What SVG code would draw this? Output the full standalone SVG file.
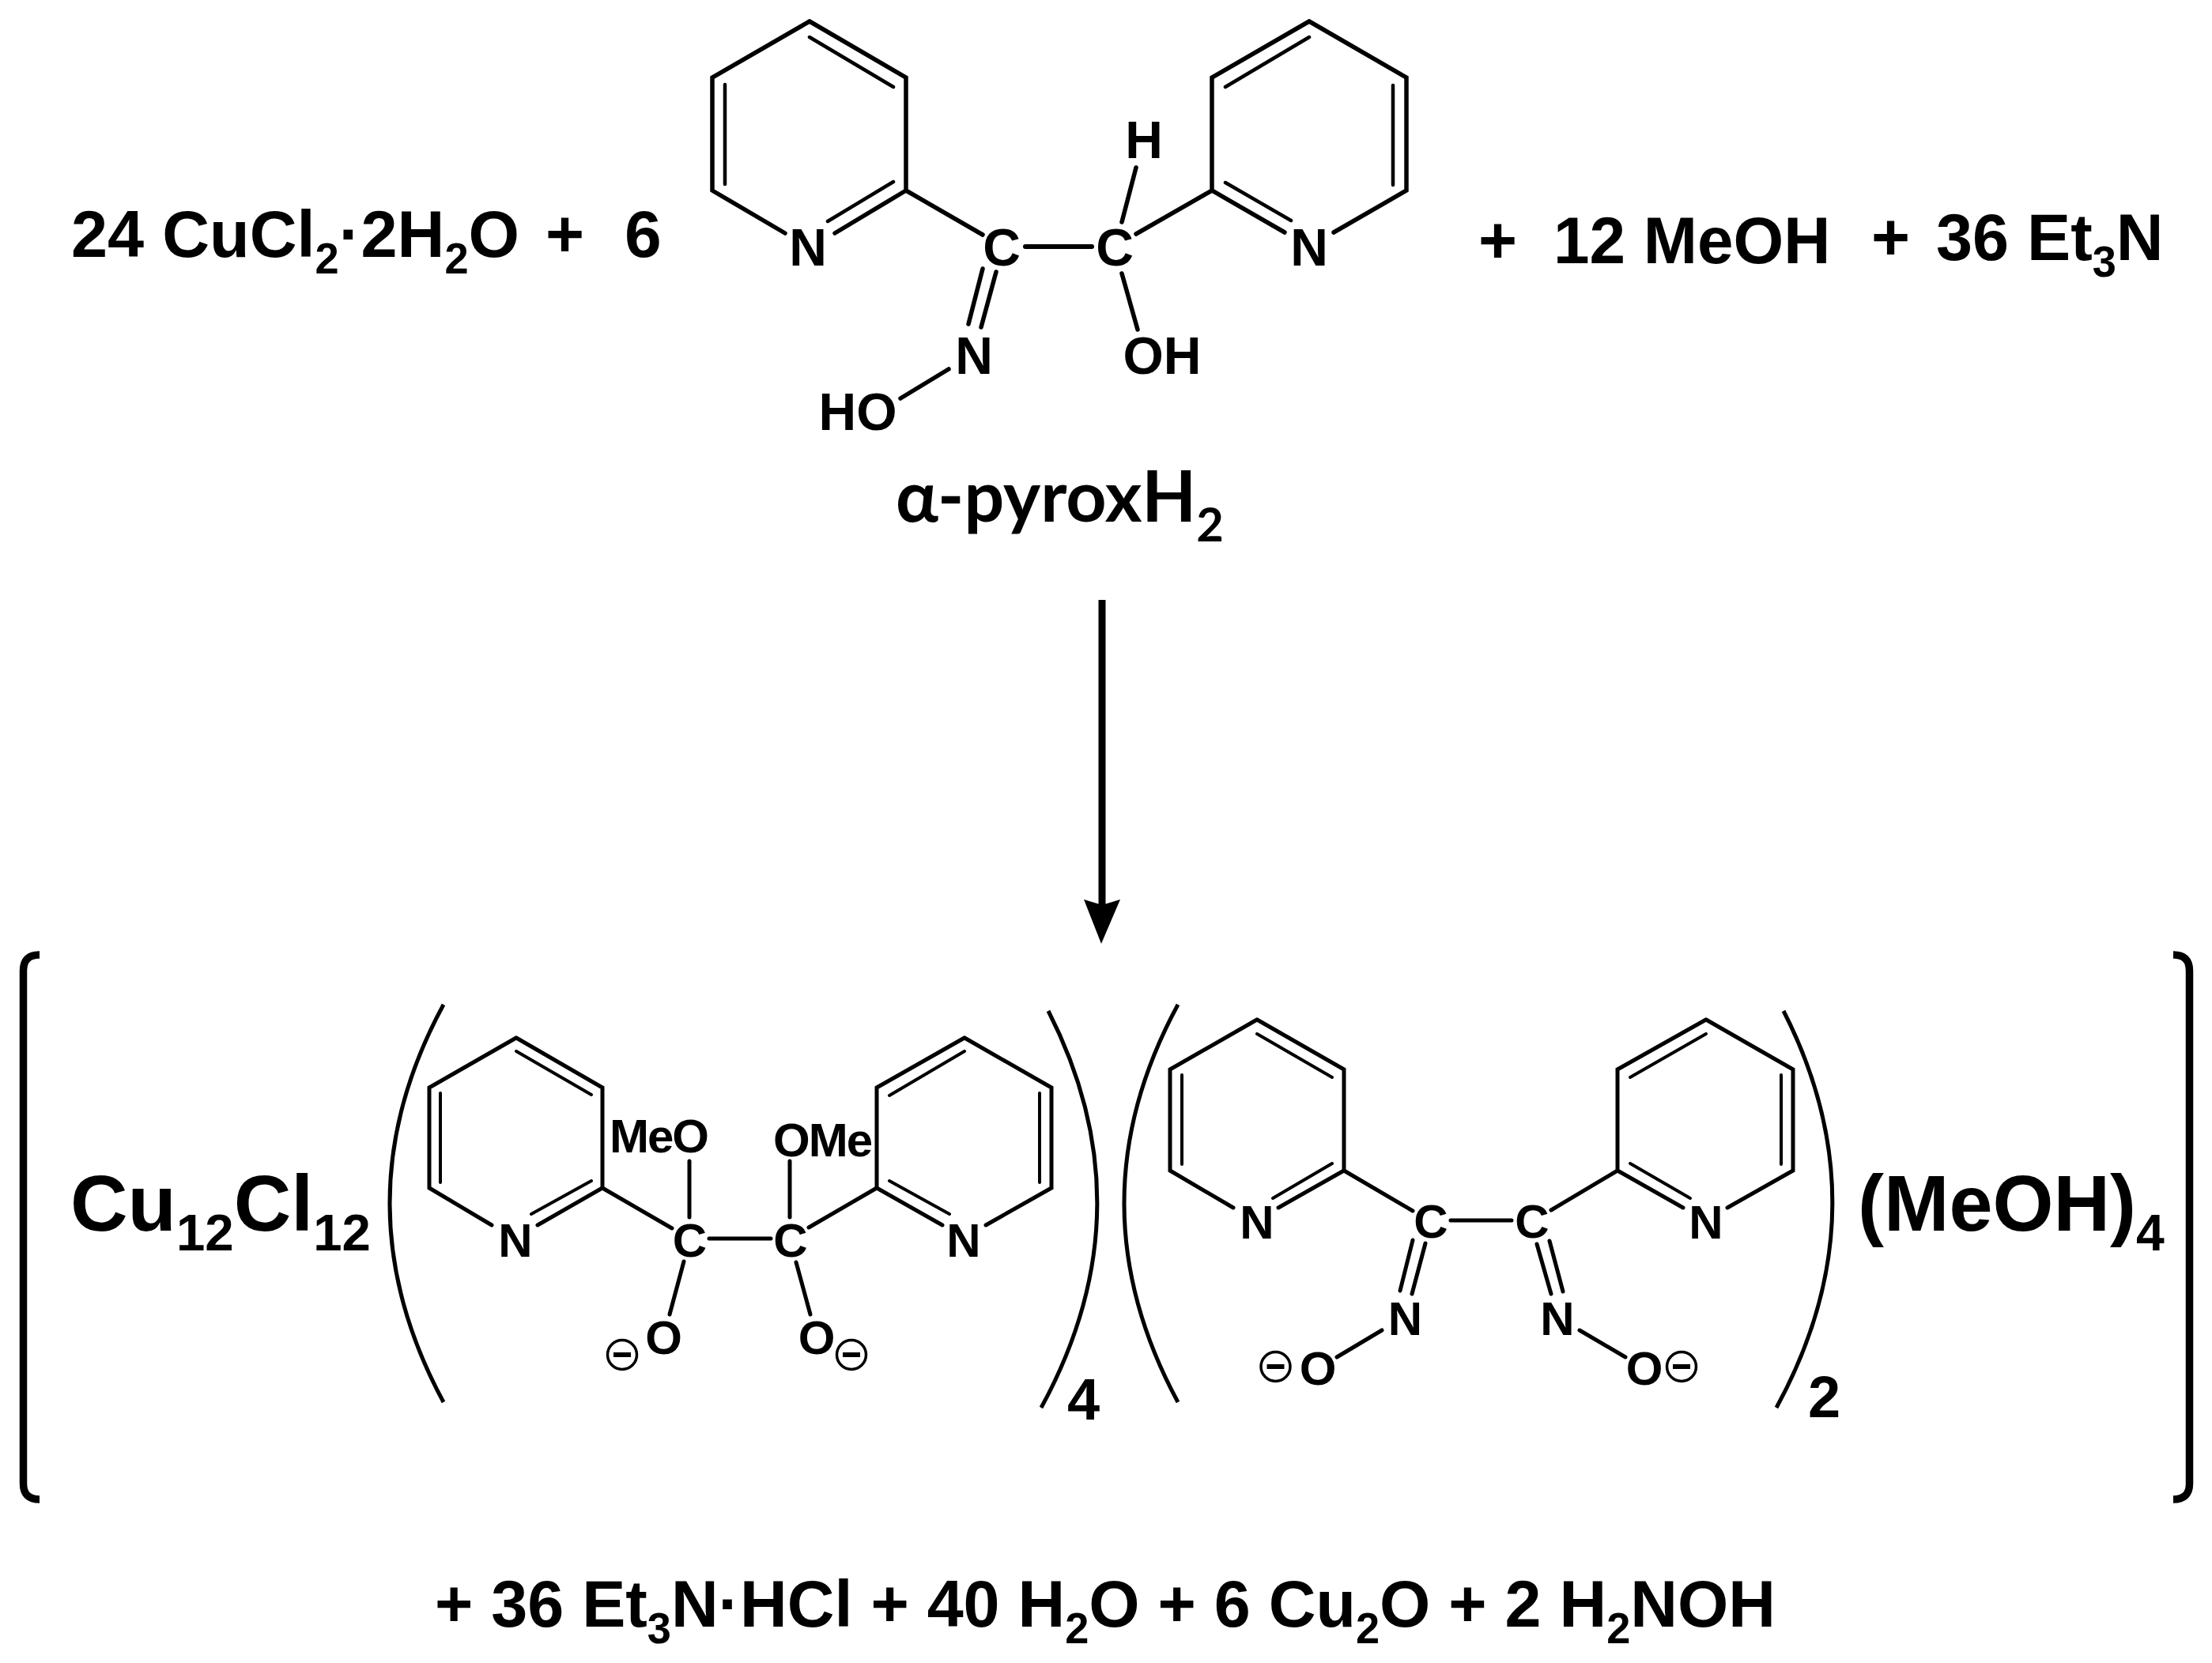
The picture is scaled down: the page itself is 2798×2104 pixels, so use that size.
<svg xmlns="http://www.w3.org/2000/svg" width="2798" height="2104" viewBox="0 0 2798 2104">
<style>
.bg{fill:#fff}
.b{fill:none;stroke:#000;stroke-width:5.5;stroke-linecap:round;stroke-linejoin:miter}
.i{fill:none;stroke:#000;stroke-width:4.5;stroke-linecap:round}
.l{fill:none;stroke:#000;stroke-width:5;stroke-linecap:round;stroke-linejoin:miter}
.li{fill:none;stroke:#000;stroke-width:4;stroke-linecap:round}
.p{fill:none;stroke:#000;stroke-width:5}
.br{fill:none;stroke:#000;stroke-width:9.5;stroke-linecap:butt}
text{fill:#000;font-family:"Liberation Sans",Arial,sans-serif}
.t{font-weight:700;font-size:84px}
.t tspan.s{font-size:55px}
.big{font-weight:700;font-size:100px}
.big tspan.s{font-size:65px}
.sub{font-weight:700;font-size:74px}
.cal{font-family:Lato,"Liberation Sans",sans-serif;font-weight:700;font-size:90px}
.cal tspan.s{font-size:60px}
.a{font-size:66px;font-weight:700;text-anchor:middle}
.a2{font-size:60px;font-weight:700;text-anchor:middle}
.sq{letter-spacing:-2px}
.minus{fill:none;stroke:#000;stroke-width:3.5}
.bar{fill:none;stroke:#000;stroke-width:6}
</style>
<defs>
<g id="neg"><circle r="18.5" class="minus"/><path d="M-11 0H11" class="bar"/></g>
</defs>
<rect class="bg" width="2798" height="2104"/>
<g id="reagent-text">
<text class="t" transform="translate(90 325) scale(.987 1)">24 CuCl<tspan class="s" dy="21">2</tspan><tspan dy="-21">·2H</tspan><tspan class="s" dy="21">2</tspan><tspan dy="-21">O</tspan></text>
<text class="t" x="690" y="325">+</text>
<text class="t" x="790" y="325">6</text>
<text class="t" x="1870" y="333">+</text>
<text class="t" transform="translate(1965 333) scale(.975 1)">12 MeOH</text>
<text class="t" x="2367" y="329">+</text>
<text class="t" transform="translate(2449 329) scale(.985 1)">36 Et<tspan class="s" dy="21">3</tspan><tspan dy="-21">N</tspan></text>
</g>
<g id="pyrox">
<g id="pyrox-bonds">
<path class="b" d="M1024 27L1146 98V241M1146 241L1056 295M993 295L901 241V98L1024 27M1146 241L1243 297"/>
<path class="i" d="M1024 47L1130 110M1130 230L1047 280M917 107V233"/>
<path class="b" d="M1656 27L1779 98V241L1687 294M1625 294L1533 241V98L1656 27M1533 241L1437 296"/>
<path class="i" d="M1656 47L1550 110M1550 231L1633 279M1762 108V234"/>
<path class="b" style="stroke-width:6" d="M1297 312H1381"/>
<path class="b" d="M1243 340L1225 410M1260 344L1241 414M1200 467L1139 504M1419 281L1437 212M1419 346L1439 417"/>
</g>
<text class="a" x="1022" y="336">N</text>
<text class="a" x="1656" y="336">N</text>
<text class="a" x="1267" y="336">C</text>
<text class="a" x="1410" y="336">C</text>
<text class="a" x="1232" y="473">N</text>
<text class="a" x="1447" y="200">H</text>
<text class="a" x="1470" y="473">OH</text>
<text class="a" x="1085" y="544">HO</text>
</g>
<text id="pyrox-label" class="cal" transform="translate(1133 660) scale(.995 1)">α-pyroxH<tspan class="s" dy="25">2</tspan></text>
<g id="connectors">
<path d="M1394 759V1150" stroke="#000" stroke-width="9" fill="none"/>
<path d="M1393 1194L1371 1138L1394 1145L1417 1138Z" fill="#000"/>
</g>
<g id="product">
<path class="br" d="M50 1208Q29.5 1208 29.5 1228V1877Q29.5 1897 50 1897"/>
<path class="br" d="M2749 1208Q2769.5 1208 2769.5 1228V1877Q2769.5 1897 2749 1897"/>
<text class="big" transform="translate(89 1557) scale(1.005 1)">Cu<tspan class="s" dy="25">12</tspan><tspan dy="-25">Cl</tspan><tspan class="s" dy="25">12</tspan></text>
<path class="p" d="M561 1271Q425 1522 561 1774"/>
<path class="p" d="M1326 1279Q1454 1530 1317 1781"/>
<text class="sub" x="1350" y="1796">4</text>
<path class="p" d="M1490 1271Q1354 1522 1490 1774"/>
<path class="p" d="M2256 1279Q2384 1530 2247 1781"/>
<text class="sub" x="2287" y="1793">2</text>
<text class="big" transform="translate(2350 1557) scale(.99 1)">(MeOH)<tspan class="s" dy="25">4</tspan></text>
</g>
<g id="ligand-1">
<path class="l" d="M653 1313L762 1376V1503L680 1550M622 1550L543 1503V1376L653 1313M762 1503L850 1554"/>
<path class="li" d="M653 1330L748 1385M748 1494L672 1536M557 1383V1496"/>
<path class="l" d="M1220 1313L1330 1376V1503L1247 1550M1192 1550L1109 1503V1376L1220 1313M1109 1503L1023 1553"/>
<path class="li" d="M1220 1330L1125 1386M1125 1494L1201 1536M1315 1383V1496"/>
<path class="l" d="M897 1567H975M872 1469V1540M999 1469V1540M865 1596L847 1663M1007 1597L1025 1663"/>
<text class="a2" x="652" y="1590">N</text>
<text class="a2" x="1219" y="1590">N</text>
<text class="a2" x="872.500" y="1590">C</text>
<text class="a2" x="1000" y="1590">C</text>
<text class="a2 sq" x="833" y="1458">MeO</text>
<text class="a2 sq" x="1040" y="1463">OMe</text>
<text class="a2" x="839.500" y="1713">O</text>
<text class="a2" x="1033" y="1713">O</text>
<use href="#neg" x="787" y="1714"/>
<use href="#neg" x="1077" y="1714"/>
</g>
<g id="ligand-2">
<path class="l" d="M1590 1290L1700 1353V1481L1617 1528M1560 1528L1480 1481V1353L1590 1290M1700 1481L1787 1532"/>
<path class="li" d="M1590 1308L1685 1363M1685 1472L1610 1516M1495 1360V1473"/>
<path class="l" d="M2158 1290L2268 1353V1481L2185 1528M2129 1528L2046 1481V1353L2158 1290M2046 1481L1962 1531"/>
<path class="li" d="M2158 1308L2062 1363M2062 1472L2138 1516M2253 1360V1473"/>
<path class="l" d="M1835 1544H1912M1787 1569L1771 1633M1803 1573L1786 1637M1944 1574L1962 1637M1960 1570L1977 1634M1748 1683L1691 1717M1998 1683L2056 1717"/>
<text class="a2" x="1590" y="1567">N</text>
<text class="a2" x="2158" y="1567">N</text>
<text class="a2" x="1810" y="1566">C</text>
<text class="a2" x="1938" y="1566">C</text>
<text class="a2" x="1777.500" y="1689">N</text>
<text class="a2" x="1970" y="1689">N</text>
<text class="a2" x="1667" y="1752">O</text>
<text class="a2" x="2080" y="1752">O</text>
<use href="#neg" x="1613.500" y="1729"/>
<use href="#neg" x="2127" y="1729"/>
</g>
<text id="byproducts" class="t" transform="translate(550 2058) scale(.984 1)">+ 36 Et<tspan class="s" dy="21">3</tspan><tspan dy="-21">N·HCl + 40 H</tspan><tspan class="s" dy="21">2</tspan><tspan dy="-21">O + 6 Cu</tspan><tspan class="s" dy="21">2</tspan><tspan dy="-21">O + 2 H</tspan><tspan class="s" dy="21">2</tspan><tspan dy="-21">NOH</tspan></text>
</svg>
